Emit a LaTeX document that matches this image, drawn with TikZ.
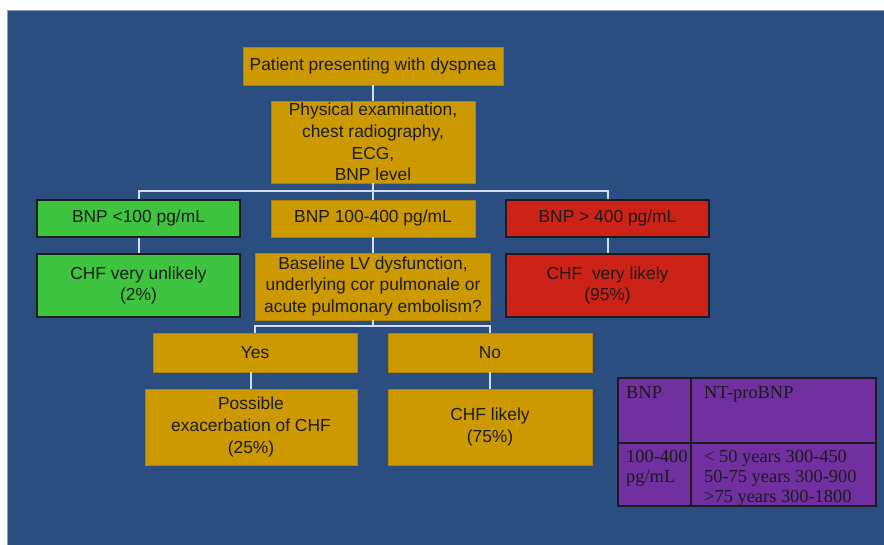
\documentclass[tikz,border=0pt]{standalone}
\usepackage{fontspec}
\setmainfont{Liberation Sans}
\newfontfamily\tabfont{Liberation Serif}
\definecolor{bg}{HTML}{2A4E80}
\definecolor{bgedge}{HTML}{8A9CC0}
\definecolor{gold}{HTML}{CC9900}
\definecolor{okgreen}{HTML}{3EC43E}
\definecolor{alarm}{HTML}{CC2218}
\definecolor{tabpurple}{HTML}{7030A0}
\definecolor{wire}{HTML}{D6DDF2}
\definecolor{ink}{HTML}{1C1C1C}
\begin{document}
\begin{tikzpicture}[x=1pt,y=-1pt,
  basebox/.style={align=center, inner sep=0pt, text=ink,
    font=\fontsize{17.4}{21.6}\selectfont},
  goldbox/.style={basebox, fill=gold, draw=gold!85!black, line width=0.5pt},
  greenbox/.style={basebox, fill=okgreen, draw=ink, line width=2pt},
  redbox/.style={basebox, fill=alarm, draw=ink, line width=2pt},
  wire/.style={draw=wire, line width=2pt},
  tabtext/.style={anchor=base west, inner sep=0pt, text=ink,
    font=\tabfont\fontsize{18.4}{20}\selectfont}]
\useasboundingbox (0,0) rectangle (884,545);
% backdrop
\fill[white] (0,0) rectangle (884,545);
\filldraw[fill=bg, draw=bgedge, line width=1pt] (7.5,10.5) rectangle (886,548);

% flow chart boxes
\node[goldbox, minimum width=260pt, minimum height=38pt] (pat) at (373,66)
  {Patient presenting with dyspnea};
\node[goldbox, minimum width=204pt, minimum height=82pt] (phys) at (373,142)
  {Physical examination,\\chest radiography,\\ECG,\\BNP level};

\node[greenbox, minimum width=203pt, minimum height=37pt] (lo) at (138.5,218.5)
  {BNP <100 pg/mL};
\node[goldbox, minimum width=204pt, minimum height=37pt] (mid) at (373,218.5)
  {BNP 100-400 pg/mL};
\node[redbox, minimum width=203pt, minimum height=37pt] (hi) at (607.5,218.5)
  {BNP > 400 pg/mL};

\node[greenbox, minimum width=203pt, minimum height=63pt] (lo2) at (138.5,285.5)
  {CHF very unlikely\\(2\%)};
\node[goldbox, minimum width=235pt, minimum height=67pt] (base) at (373,286.5)
  {Baseline LV dysfunction,\\underlying cor pulmonale or\\acute pulmonary embolism?};
\node[redbox, minimum width=203pt, minimum height=63pt] (hi2) at (607.5,285.5)
  {CHF\ \ very likely\\(95\%)};

\node[goldbox, minimum width=204pt, minimum height=39pt] (yes) at (255,352.5) {Yes};
\node[goldbox, minimum width=204pt, minimum height=39pt] (no) at (490,352.5) {No};

\node[goldbox, minimum width=212pt, minimum height=76pt] (poss) at (251,427)
  {Possible\\exacerbation of CHF\\(25\%)};
\node[goldbox, minimum width=204pt, minimum height=76pt] (lik) at (490,427)
  {CHF likely\\(75\%)};

% connectors
\coordinate (split) at (373,191);
\coordinate (fork) at (373,326);
\draw[wire] (pat.south) -- (phys.north);
\draw[wire] (phys.south) -- (mid.north);
\draw[wire] (lo.north) |- (split) -| (hi.north);
\draw[wire] (lo.south) -- (lo2.north);
\draw[wire] (mid.south) -- (base.north);
\draw[wire] (hi.south) -- (hi2.north);
\draw[wire] (base.south) -- (fork);
\draw[wire] (yes.north) |- (fork) -| (no.north);
\draw[wire] (poss.north) -- (poss.north |- yes.south);
\draw[wire] (no.south) -- (lik.north);

% reference table
\filldraw[fill=tabpurple, draw=ink, line width=1.6pt] (618,378) rectangle (876,506);
\draw[ink, line width=1.6pt] (691,378) -- (691,506) (618,443) -- (876,443);
\node[tabtext] (thb) at (626,399) {BNP};
\node[tabtext] (thn) at (704,399) {NT-proBNP};
\node[tabtext] (tdb1) at (626,462) {100-400};
\node[tabtext] (tdb2) at (626,482) {pg/mL};
\node[tabtext] (tdn1) at (704,462) {< 50 years 300-450};
\node[tabtext] (tdn2) at (704,482) {50-75 years 300-900};
\node[tabtext] (tdn3) at (704,502) {>75 years 300-1800};
\end{tikzpicture}
\end{document}
